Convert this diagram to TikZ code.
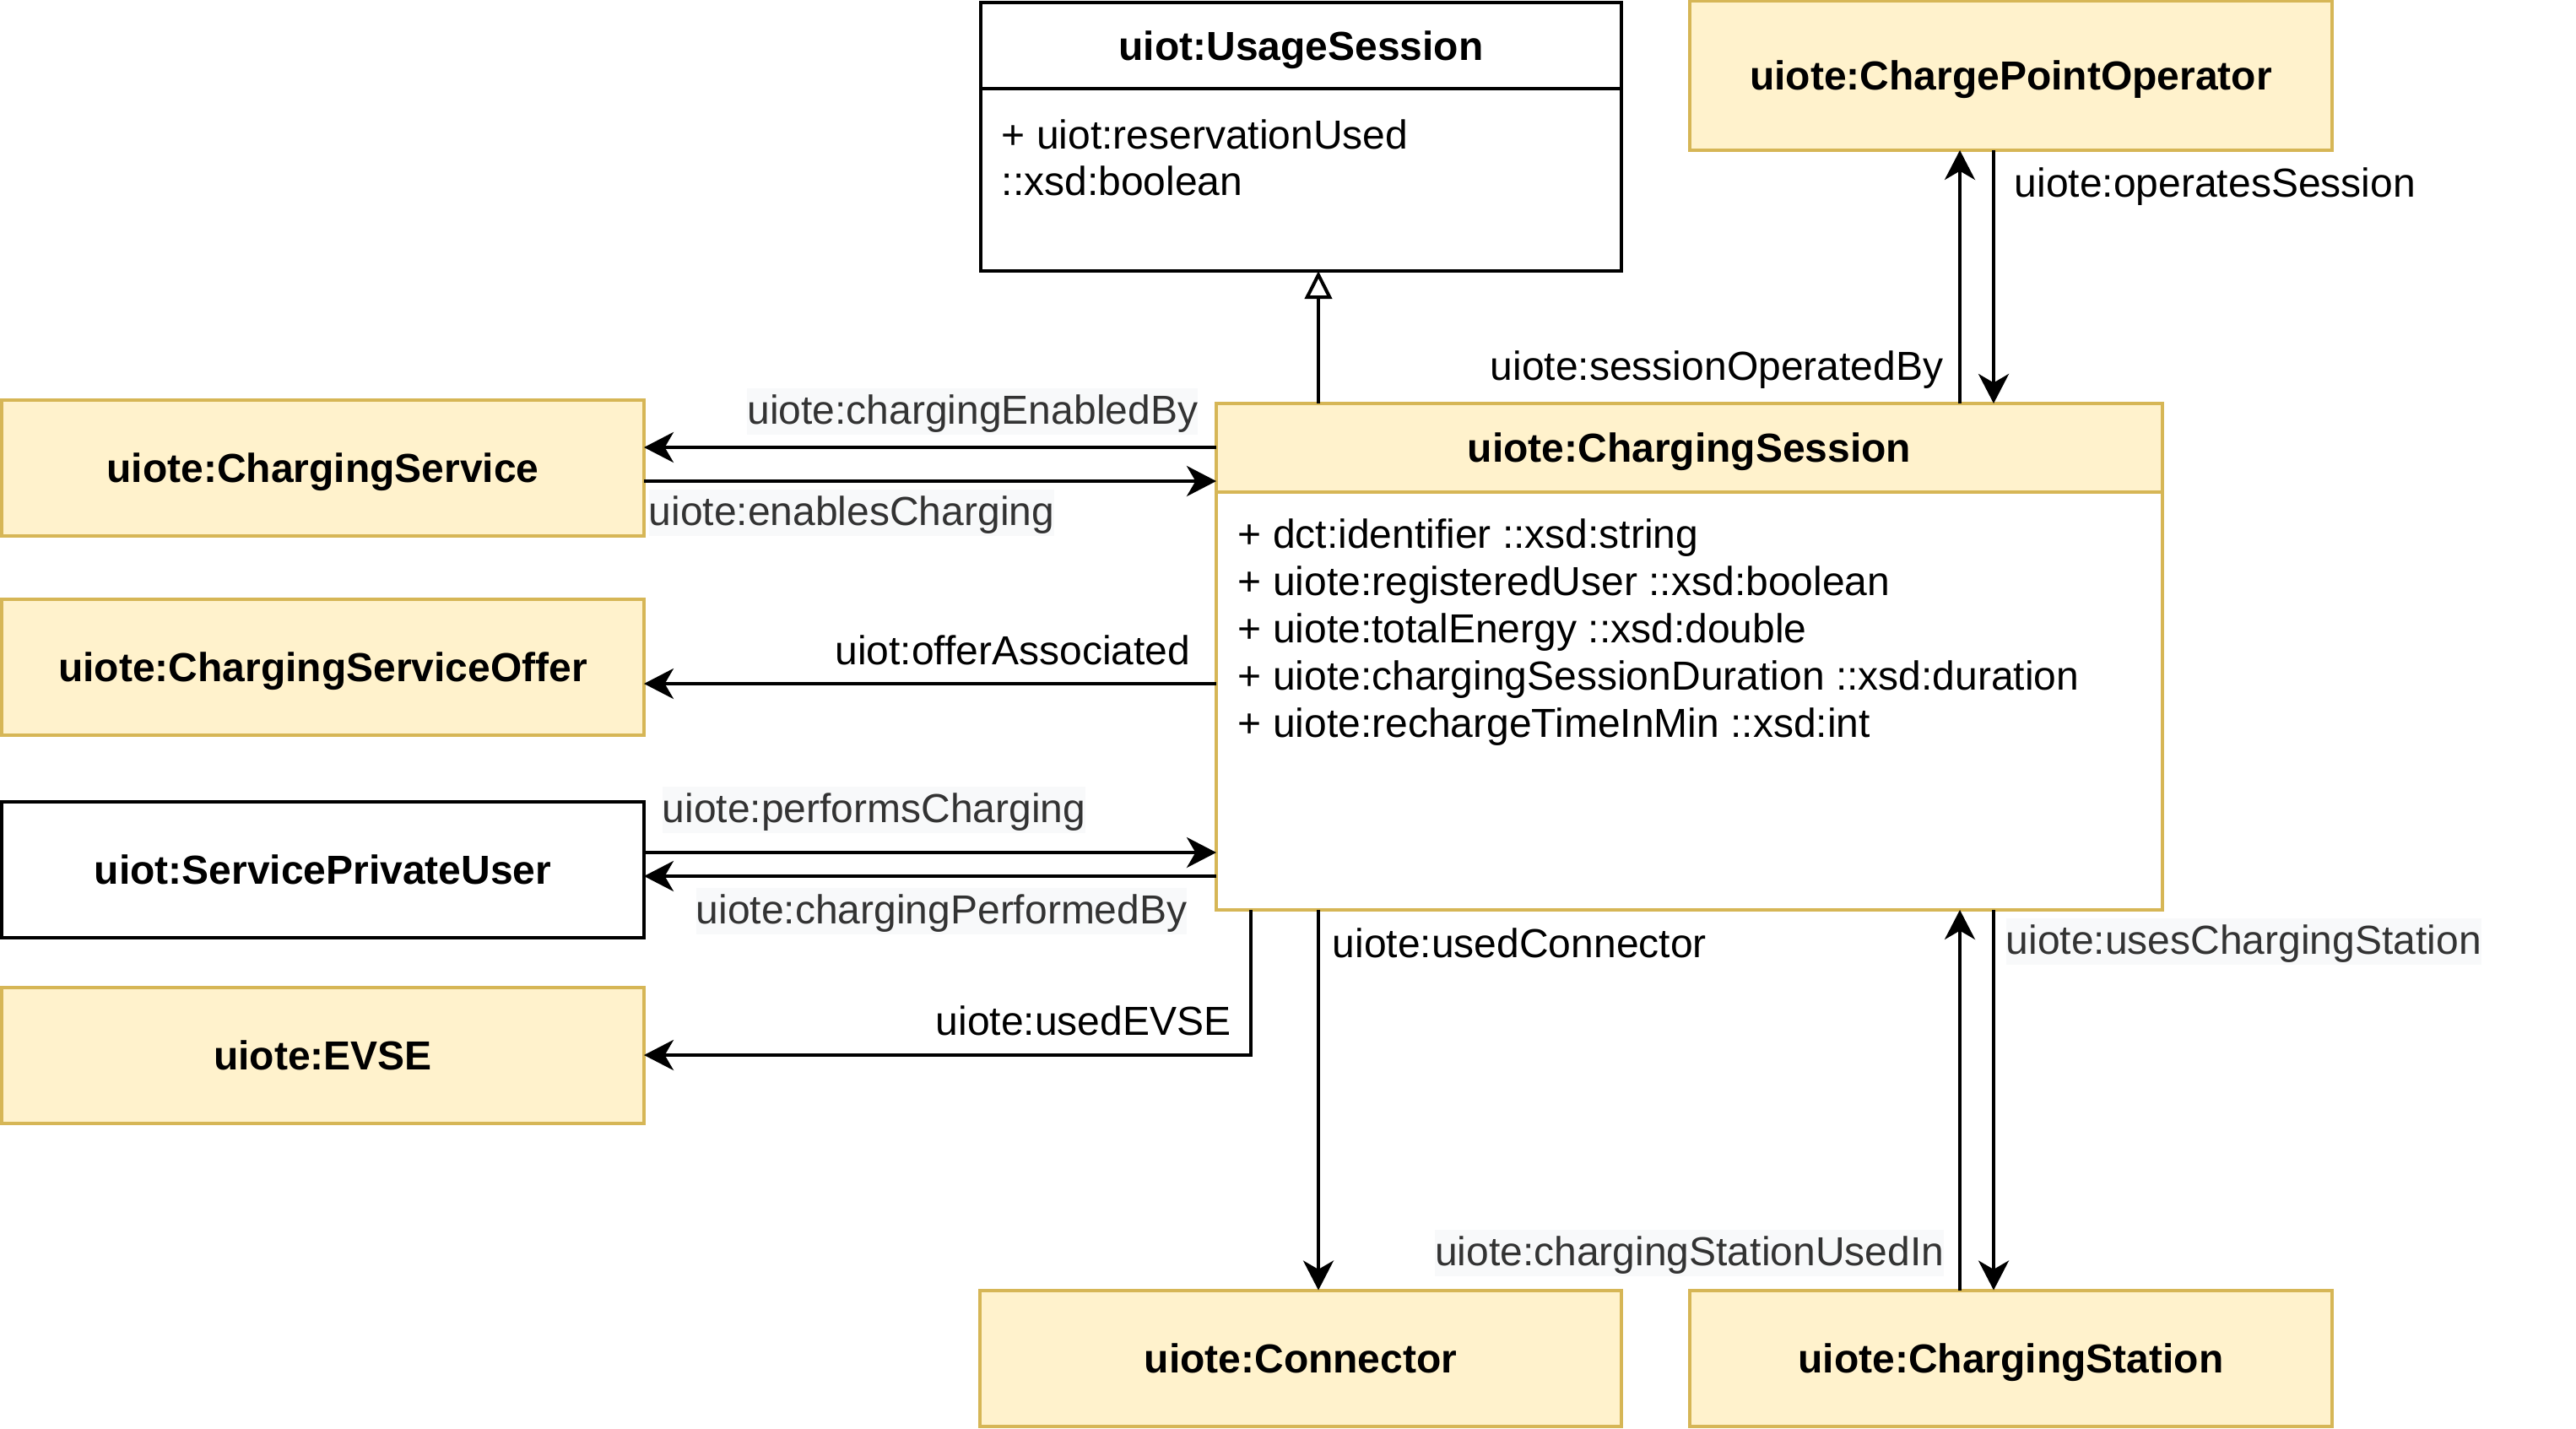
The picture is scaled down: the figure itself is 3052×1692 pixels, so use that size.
\documentclass[tikz,border=0pt]{standalone}
\usepackage{fontspec}
\setmainfont{Liberation Sans}
\usetikzlibrary{arrows.meta}
\definecolor{yfill}{HTML}{FFF2CC}
\definecolor{ydraw}{HTML}{D6B656}
\definecolor{lblbg}{HTML}{F8F9FA}
\definecolor{lbltxt}{HTML}{333333}
\begin{document}
\begin{tikzpicture}[x=0.25pt,y=-0.25pt,
  every node/.style={font=\fontsize{12}{14}\selectfont},
  cls/.style={draw=ydraw, fill=yfill, line width=1pt, outer sep=0pt, minimum width=190.25pt, minimum height=40.25pt, inner sep=0pt, font=\fontsize{12}{14}\selectfont\bfseries, text height=8.6pt, text depth=0pt},
  clsw/.style={cls, draw=black, fill=white},
  ttl/.style={inner sep=0pt, anchor=base, font=\fontsize{12}{14}\selectfont\bfseries},
  arr/.style={line width=1pt, -{Stealth[length=8.75pt,width=9pt,inset=2.6pt]}},
  gen/.style={line width=1pt, -{Triangle[open,length=8.25pt,width=8pt,fill=white]}},
  lbl/.style={inner sep=0pt, text height=10.5pt, text depth=3.25pt},
  lblg/.style={lbl, fill=lblbg, text=lbltxt},
  attr/.style={inner sep=0pt, anchor=base west},
]
\useasboundingbox (0,0) rectangle (3052,1692);

% class boxes
\node[cls] (csv) at (382.5,554.5) {uiote:ChargingService};
\node[cls] (off) at (382.5,790) {uiote:ChargingServiceOffer};
\node[clsw] (spu) at (382.5,1030) {uiot:ServicePrivateUser};
\node[cls] (evse) at (382.5,1250) {uiote:EVSE};
\node[cls, minimum width=190pt] (con) at (1541,1609) {uiote:Connector};
\node[cls] (cst) at (2382.5,1609) {uiote:ChargingStation};
\node[cls, minimum height=44.25pt] (cpo) at (2382.5,89.5) {uiote:ChargePointOperator};

% UsageSession
\node[draw=black, fill=white, line width=1pt, outer sep=0pt, inner sep=0pt, minimum width=189.75pt, minimum height=79.5pt] (us) at (1541.5,162) {};
\draw[line width=1pt] ([yshift=-25.5pt]us.north west) -- ([yshift=-25.5pt]us.north east);
\node[ttl] (ustitle) at (1541.5,71) {uiot:UsageSession};
\node[attr] (usa1) at (1186,176) {+ uiot:reservationUsed};
\node[attr] (usa2) at (1186,231) {::xsd:boolean};

% ChargingSession
\node[draw=ydraw, fill=white, line width=1pt, outer sep=0pt, inner sep=0pt, minimum width=280.25pt, minimum height=150pt] (cs) at (2001.5,778) {};
\draw[draw=ydraw, fill=yfill, line width=1pt] (cs.north west) rectangle ([yshift=-26.25pt]cs.north east);
\node[ttl] (cstitle) at (2001.5,547) {uiote:ChargingSession};
\node[attr] (csa1) at (1466,649) {+ dct:identifier ::xsd:string};
\node[attr] (csa2) at (1466,705) {+ uiote:registeredUser ::xsd:boolean};
\node[attr] (csa3) at (1466,761) {+ uiote:totalEnergy ::xsd:double};
\node[attr] (csa4) at (1466,817) {+ uiote:chargingSessionDuration ::xsd:duration};
\node[attr] (csa5) at (1466,873) {+ uiote:rechargeTimeInMin ::xsd:int};

% connectors
\draw[gen] (cs.north -| 1562,0) -- (us.south -| 1562,0);
\draw[arr] (cs.west |- 0,530) -- (csv.east |- 0,530);
\draw[arr] (csv.east |- 0,570) -- (cs.west |- 0,570);
\draw[arr] (cs.west |- 0,810) -- (off.east |- 0,810);
\draw[arr] (spu.east |- 0,1010) -- (cs.west |- 0,1010);
\draw[arr] (cs.west |- 0,1038) -- (spu.east |- 0,1038);
\draw[arr] (cs.south -| 1482,0) |- (evse.east);
\draw[arr] (cs.south -| 1562,0) -- (con.north -| 1562,0);
\draw[arr] (cs.north -| 2322,0) -- (cpo.south -| 2322,0);
\draw[arr] (cpo.south -| 2362,0) -- (cs.north -| 2362,0);
\draw[arr] (cst.north -| 2322,0) -- (cs.south -| 2322,0);
\draw[arr] (cs.south -| 2362,0) -- (cst.north -| 2362,0);

% labels
\node[lblg, anchor=base east] (l1) at (1420,502) {uiote:chargingEnabledBy};
\node[lblg, anchor=base west] (l2) at (768,622) {uiote:enablesCharging};
\node[lbl, anchor=base east] (l3) at (1411,787) {uiot:offerAssociated};
\node[lblg, anchor=base west] (l4) at (784,974) {uiote:performsCharging};
\node[lblg, anchor=base west] (l5) at (824,1094) {uiote:chargingPerformedBy};
\node[lbl, anchor=base west] (l6) at (1108,1226) {uiote:usedEVSE};
\node[lbl, anchor=base west] (l7) at (1578,1134) {uiote:usedConnector};
\node[lbl, anchor=base east] (l8) at (2303,450) {uiote:sessionOperatedBy};
\node[lbl, anchor=base west] (l9) at (2386,233) {uiote:operatesSession};
\node[lblg, anchor=base east] (l10) at (2304,1499) {uiote:chargingStationUsedIn};
\node[lblg, anchor=base west] (l11) at (2376,1130) {uiote:usesChargingStation};
\end{tikzpicture}
\end{document}
